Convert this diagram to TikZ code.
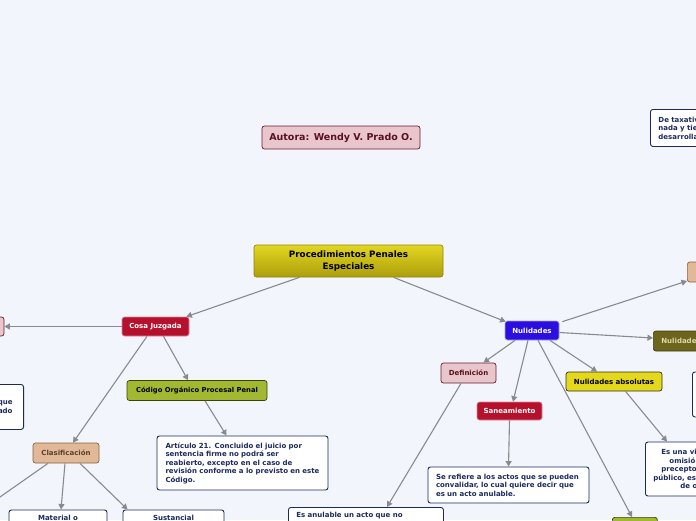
\documentclass[tikz,border=0pt]{standalone}
\usepackage{fontspec}
\setmainfont{DejaVu Sans}
\usetikzlibrary{arrows.meta}
\definecolor{bg}{RGB}{243,245,252}
\definecolor{crimF}{RGB}{181,16,44}
\definecolor{pinkF}{RGB}{232,198,204}
\definecolor{maroon}{RGB}{106,27,43}
\definecolor{maroonT}{RGB}{90,16,32}
\definecolor{tanF}{RGB}{226,185,150}
\definecolor{tanD}{RGB}{138,96,64}
\definecolor{tanT}{RGB}{90,64,48}
\definecolor{oliveF}{RGB}{162,184,48}
\definecolor{oliveD}{RGB}{58,64,16}
\definecolor{yelF}{RGB}{228,216,28}
\definecolor{yelD}{RGB}{50,50,20}
\definecolor{blueF}{RGB}{43,15,224}
\definecolor{darkOl}{RGB}{108,102,28}
\definecolor{darkOlT}{RGB}{221,217,168}
\definecolor{navy}{RGB}{28,42,92}
\definecolor{arrG}{RGB}{138,138,142}
\definecolor{cenT}{RGB}{226,214,32}
\definecolor{cenB}{RGB}{172,158,12}
\tikzset{
 box/.style={rounded corners=2.5pt, inner sep=0pt, line width=0.7pt,
   font=\bfseries\fontsize{7}{8.5}\selectfont, align=center},
 crim/.style={box, fill=crimF, draw=crimF!50!white, text=white},
 pinkb/.style={box, fill=pinkF, draw=maroon, text=maroonT},
 tanb/.style={box, fill=tanF, draw=tanD, text=tanT},
 oliveb/.style={box, fill=oliveF, draw=oliveD, text=black},
 yelb/.style={box, fill=yelF, draw=yelD, text=black},
 blueb/.style={box, fill=blueF, draw=blueF!40!white, text=white},
 dolb/.style={box, fill=darkOl, draw=darkOl!60!black, text=darkOlT},
 wbox/.style={box, fill=white, draw=navy, text=navy, line width=0.9pt,
   font=\bfseries\fontsize{7}{8.5}\selectfont, align=left},
 arr/.style={draw=arrG, line width=1.1pt, -{Triangle[length=5.5pt,width=6pt]}},
}
\begin{document}
\begin{tikzpicture}[x=1pt,y=-1pt]
\useasboundingbox (0,0) rectangle (696,520);
\fill[bg] (0,0) rectangle (696,520);
\clip (0,0) rectangle (696,520);

% nodes
\node[pinkb, minimum width=158pt, minimum height=23pt,
  font=\bfseries\fontsize{9.5}{11}\selectfont] (autora) at (341,137.5) {Autora: Wendy V. Prado O.};
\node[box, top color=cenT, bottom color=cenB, draw=cenB!85!black,
  minimum width=189pt, minimum height=32pt,
  font=\bfseries\fontsize{8.8}{11.5}\selectfont] (central) at (348.5,261) {Procedimientos Penales\\Especiales};
\node[wbox, anchor=north west, minimum height=37pt, text width=94pt, inner xsep=8pt] (taxa) at (650,109) {De taxativ\\nada y tie\\desarrolla};

\node[crim, minimum width=67pt, minimum height=19pt] (cosa) at (155.5,326.5) {Cosa Juzgada};
\node[pinkb, minimum width=44pt, minimum height=19pt] (lpink) at (-18,326.5) {};
\node[wbox, anchor=north east, minimum height=45pt, text width=89pt, inner xsep=11pt, align=right] (lwhite) at (24,384) {que\\ado};
\node[oliveb, minimum width=140pt, minimum height=20pt, font=\bfseries\fontsize{6.8}{8}\selectfont] (codigo) at (197,390.5) {Código Orgánico Procesal Penal};
\node[wbox, minimum height=54pt, text width=157pt, inner xsep=7pt] (art) at (242.5,463) {\hspace*{1.5pt}Artículo 21. Concluido el juicio por\\\hspace*{1.5pt}sentencia firme no podrá ser\\\hspace*{1.5pt}reabierto, excepto en el caso de\\\hspace*{1.5pt}revisión conforme a lo previsto en este\\\hspace*{1.5pt}Código.};
\node[tanb, minimum width=66pt, minimum height=20pt] (clas) at (66,453) {Clasificación};
\node[wbox, anchor=north, text width=98pt, inner xsep=0pt, inner ysep=5pt, align=center] (mat) at (58,509.5) {Material o\\\rule{0pt}{25pt}};
\node[wbox, anchor=north, text width=101pt, inner xsep=0pt, inner ysep=5pt, align=center] (sus) at (173.5,509.5) {Sustancial\\\rule{0pt}{25pt}};
\coordinate (off) at (-20,511);

\node[blueb, minimum width=54pt, minimum height=19pt] (nul) at (532,330.5) {Nulidades};
\node[pinkb, minimum width=55pt, minimum height=20pt] (def) at (468.5,373) {Definición};
\node[crim, minimum width=65pt, minimum height=18pt] (san) at (509.5,411) {Saneamiento};
\node[wbox, minimum height=36pt, text width=145pt, inner xsep=8pt] (seref) at (508.5,485) {Se refiere a los actos que se pueden\\convalidar, lo cual quiere decir que\\es un acto anulable.};
\node[wbox, anchor=north west, text width=139pt, inner xsep=8pt, inner ysep=5pt] (esan) at (288,507) {Es anulable un acto que no\\\rule{0pt}{25pt}};
\node[yelb, minimum width=96pt, minimum height=19pt] (abs) at (614,381.5) {Nulidades absolutas};
\node[dolb, anchor=west, minimum height=20pt, text width=53pt, inner xsep=8pt, align=left] (nolive) at (653,341) {Nulidade};
\node[tanb, anchor=west, minimum width=60pt, minimum height=20pt] (tanr) at (687,272) {};
\node[wbox, anchor=west, minimum width=60pt, minimum height=45pt] (wr) at (692,394.5) {};
\node[wbox, anchor=west, minimum height=54pt, text width=110pt, inner xsep=8pt] (esuna) at (645,469) {\hspace*{8pt}Es una vi\\\hspace*{16pt}omisió\\\hspace*{8pt}precepto\\público, es\\\hspace*{27pt}de o};
\node[oliveb, anchor=north west, minimum width=45pt, minimum height=20pt] (bol) at (612,517) {};

% connectors
\draw[arr] ([xshift=-49pt]central.south) -- ([xshift=-3pt]cosa.north east);
\draw[arr] ([xshift=45pt]central.south) -- ([xshift=1pt,yshift=-1pt]nul.north west);
\draw[arr] (cosa.west) -- (lpink.east);
\draw[arr] ([xshift=-8.5pt]cosa.south) -- ([xshift=7pt]clas.north);
\draw[arr] ([xshift=8pt]cosa.south) -- ([xshift=-9pt]codigo.north);
\draw[arr] ([xshift=8pt]codigo.south) -- ([xshift=-16pt]art.north);
\draw[arr] ([xshift=-18pt]clas.south) -- (off);
\draw[arr] ([xshift=-1pt]clas.south) -- ([xshift=3pt]mat.north);
\draw[arr] ([xshift=14pt]clas.south) -- ([xshift=5pt]sus.north west);
\draw[arr] ([xshift=-17pt]nul.south) -- ([xshift=15pt]def.north);
\draw[arr] ([xshift=-4pt]nul.south) -- ([xshift=3.5pt]san.north);
\draw[arr] ([xshift=6pt]nul.south) -- ([xshift=20pt]bol.north west);
\draw[arr] ([xshift=18pt]nul.south) -- ([xshift=-17pt]abs.north);
\draw[arr] ([xshift=3pt,yshift=-1pt]nul.north east) -- ([yshift=-9pt]tanr.west);
\draw[arr] ([yshift=-2pt]nul.east) -- ([yshift=3pt]nolive.west);
\draw[arr] ([xshift=-7.5pt]def.south) -- ([xshift=99pt]esan.north west);
\draw[arr] (san.south) -- (seref.north);
\draw[arr] ([xshift=11.5pt]abs.south) -- ([xshift=22pt]esuna.north west);
\end{tikzpicture}
\end{document}
